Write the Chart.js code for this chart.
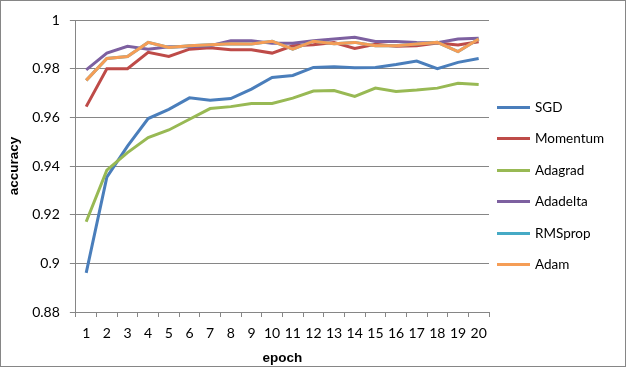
<!DOCTYPE html>
<html>
<head>
<meta charset="utf-8">
<script src="https://cdn.jsdelivr.net/npm/chart.js@4.4.0/dist/chart.umd.min.js"></script>
<style>
  body { margin: 0; background: #fff; }
</style>
</head>
<body>
<canvas id="accChart" width="627" height="371"></canvas>
<script>
const epochs = ["1", "2", "3", "4", "5", "6", "7", "8", "9", "10",
  "11", "12", "13", "14", "15", "16", "17", "18", "19", "20"];

const sgd = [0.8961, 0.9354, 0.9482, 0.9595, 0.9633, 0.968, 0.967, 0.9677, 0.9716, 0.9764,
  0.9772, 0.9805, 0.9808, 0.9804, 0.9805, 0.9817, 0.9831, 0.98, 0.9826, 0.9842];
const momentum = [0.9644, 0.98, 0.98, 0.9867, 0.985, 0.988, 0.9886, 0.9878, 0.9878, 0.9864,
  0.9894, 0.9898, 0.9907, 0.9883, 0.99, 0.9892, 0.9894, 0.9905, 0.9897, 0.9911];
const adagrad = [0.9171, 0.9383, 0.9455, 0.9517, 0.9548, 0.9592, 0.9636, 0.9644, 0.9657, 0.9657,
  0.9679, 0.9708, 0.971, 0.9686, 0.972, 0.9706, 0.9712, 0.972, 0.974, 0.9735];
const adadelta = [0.9795, 0.9864, 0.9892, 0.988, 0.989, 0.989, 0.9894, 0.9915, 0.9915, 0.9904,
  0.9904, 0.9915, 0.9922, 0.9929, 0.9912, 0.9912, 0.9908, 0.9907, 0.9922, 0.9925];
const rmsprop = [0.9752, 0.9842, 0.985, 0.9908, 0.9887, 0.9894, 0.9898, 0.9902, 0.9901, 0.9913,
  0.988, 0.9913, 0.9902, 0.9908, 0.9894, 0.9894, 0.9901, 0.9908, 0.987, 0.9922];
const adam = [0.9752, 0.9842, 0.985, 0.9908, 0.9887, 0.9894, 0.9898, 0.9902, 0.9901, 0.9913,
  0.988, 0.9913, 0.9902, 0.9908, 0.9894, 0.9894, 0.9901, 0.9908, 0.987, 0.9922];

const FONT = "Lato, 'Open Sans', sans-serif";
const BOLD_FONT = "'Liberation Sans', Arial, sans-serif";
const GRID = "#868686";

function series(label, values, color, order) {
  return {
    label: label,
    data: values,
    borderColor: color,
    backgroundColor: color,
    borderWidth: 3,
    pointRadius: 0,
    tension: 0,
    fill: false,
    order: order, // later series drawn on top, like Excel
  };
}

// thin grey frame round the whole chart, like the Excel chart area
const chartFrame = {
  id: "chartFrame",
  afterDraw(chart) {
    const { ctx } = chart;
    ctx.save();
    ctx.strokeStyle = GRID;
    ctx.lineWidth = 1;
    ctx.strokeRect(0.5, 0.5, 625, 366);
    ctx.restore();
  },
};

// Excel style legend: short line + name, to the right of the plot
const sideLegend = {
  id: "sideLegend",
  afterDraw(chart) {
    const { ctx } = chart;
    const x0 = 497;
    const y0 = 107;
    const step = 31.4;
    ctx.save();
    ctx.font = "13.5px " + FONT;
    ctx.textBaseline = "middle";
    ctx.fillStyle = "#000";
    chart.data.datasets.forEach((ds, i) => {
      const y = Math.round(y0 + i * step) + 0.5;
      ctx.strokeStyle = ds.borderColor;
      ctx.lineWidth = 3;
      ctx.beginPath();
      ctx.moveTo(x0, y);
      ctx.lineTo(x0 + 33, y);
      ctx.stroke();
      ctx.fillText(ds.label, x0 + 38, y);
    });
    ctx.restore();
  },
};

const config = {
  type: "line",
  data: {
    labels: epochs,
    datasets: [
      series("SGD", sgd, "#4A7EBB", 6),
      series("Momentum", momentum, "#BE4B48", 5),
      series("Adagrad", adagrad, "#98B954", 4),
      series("Adadelta", adadelta, "#7D60A0", 3),
      series("RMSprop", rmsprop, "#46AAC5", 2),
      series("Adam", adam, "#F59D56", 1),
    ],
  },
  options: {
    responsive: false,
    animation: false,
    layout: {
      padding: { top: 20, left: 6, right: 138, bottom: 5 },
    },
    plugins: {
      tooltip: { enabled: false },
      legend: { display: false },
    },
    scales: {
      x: {
        offset: true,
        grid: {
          offset: true,
          drawOnChartArea: false,
          color: GRID,
          tickLength: 5,
        },
        border: { color: GRID },
        ticks: {
          color: "#000",
          padding: 8,
          maxRotation: 0,
          autoSkip: false,
          font: { family: FONT, size: 14 },
        },
        title: {
          display: true,
          text: "epoch",
          color: "#000",
          padding: { top: 0, bottom: 0 },
          font: { family: BOLD_FONT, size: 13.5, weight: "bold" },
        },
      },
      y: {
        min: 0.88,
        max: 1,
        grid: {
          color: GRID,
          tickLength: 6,
        },
        border: { color: GRID },
        ticks: {
          stepSize: 0.02,
          color: "#000",
          padding: 10,
          font: { family: FONT, size: 14 },
          callback: (value) => String(+value.toFixed(2)),
        },
        title: {
          display: true,
          text: "accuracy",
          color: "#000",
          padding: { top: 0, bottom: 0 },
          font: { family: BOLD_FONT, size: 13.5, weight: "bold" },
        },
      },
    },
  },
  plugins: [chartFrame, sideLegend],
};

const accChart = new Chart(document.getElementById("accChart"), config);
</script>
</body>
</html>
